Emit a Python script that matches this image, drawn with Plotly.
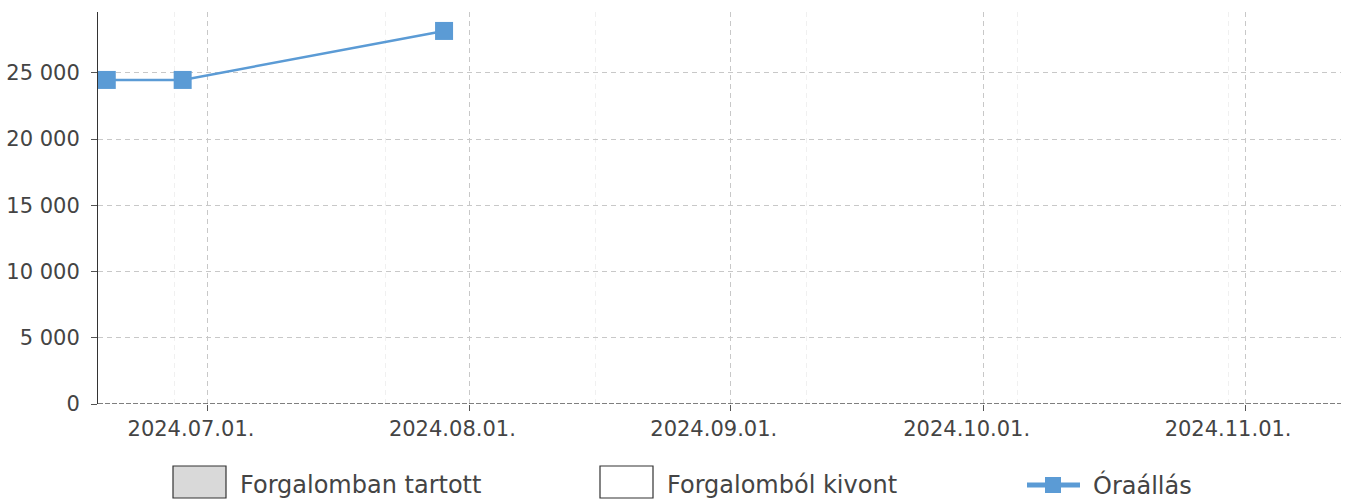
import plotly.graph_objects as go

# ---- data ----
dates = ["2024-06-19", "2024-06-28", "2024-07-29"]
meter_values = [24470, 24470, 28170]
legend_names = ["Forgalomban tartott", "Forgalomból kivont", "Óraállás"]
x_range = ["2024-06-17 23:00", "2024-11-12 09:00"]
y_range = [0, 29600]

LINE_COLOR = "#5b9bd5"
TEXT_COLOR = "#444444"
FONT = "DejaVu Sans"

W, H = 1348, 500
ML, MR, MT, MB = 98, 7, 12, 96
PW, PH = W - ML - MR, H - MT - MB


def px_x(px):
    return (px - ML) / PW


def px_y(py):
    return (H - MB - py) / PH


fig = go.Figure()

# empty bar series (kept for structure)
fig.add_trace(go.Bar(x=[], y=[], name=legend_names[0], marker_color="#d9d9d9", showlegend=False))
fig.add_trace(go.Bar(x=[], y=[], name=legend_names[1], marker_color="#ffffff", showlegend=False))

fig.add_trace(go.Scatter(
    x=dates, y=meter_values, name=legend_names[2], mode="lines+markers",
    line=dict(color=LINE_COLOR, width=2.5),
    marker=dict(symbol="square", size=18, color=LINE_COLOR),
    showlegend=False,
))

shapes = []
annotations = []

# x axis baseline (dashed)
shapes.append(dict(type="line", xref="paper", yref="y", x0=0, x1=1, y0=0, y1=0,
                   line=dict(color="#555555", width=1.5, dash="5px,2px"), layer="above"))

# custom legend
leg_y_top, leg_y_bot, leg_cy = 466, 498, 485
shapes.append(dict(type="rect", xref="paper", yref="paper",
                   x0=px_x(173), x1=px_x(226), y0=px_y(leg_y_bot), y1=px_y(leg_y_top),
                   fillcolor="#d9d9d9", line=dict(color="#333333", width=1.2)))
shapes.append(dict(type="rect", xref="paper", yref="paper",
                   x0=px_x(600), x1=px_x(653), y0=px_y(leg_y_bot), y1=px_y(leg_y_top),
                   fillcolor="#ffffff", line=dict(color="#333333", width=1.2)))
shapes.append(dict(type="line", xref="paper", yref="paper",
                   x0=px_x(1027), x1=px_x(1080), y0=px_y(leg_cy), y1=px_y(leg_cy),
                   line=dict(color=LINE_COLOR, width=5)))
shapes.append(dict(type="rect", xref="paper", yref="paper",
                   x0=px_x(1045), x1=px_x(1061), y0=px_y(leg_cy + 8), y1=px_y(leg_cy - 8),
                   fillcolor=LINE_COLOR, line=dict(width=0)))

for name, tx in zip(legend_names, [238, 665, 1091]):
    annotations.append(dict(text=name, xref="paper", yref="paper", x=px_x(tx), y=px_y(leg_cy),
                            xanchor="left", yanchor="middle", showarrow=False,
                            font=dict(family=FONT, size=24, color=TEXT_COLOR)))

fig.update_layout(
    width=W, height=H,
    margin=dict(l=ML, r=MR, t=MT, b=MB, pad=0),
    paper_bgcolor="white", plot_bgcolor="white",
    separators=", ",
    font=dict(family=FONT, color=TEXT_COLOR),
    shapes=shapes, annotations=annotations,
    xaxis=dict(
        type="date", range=x_range,
        tick0="2024-07-01", dtick="M1", tickformat="%Y.%m.%d.",
        ticks="outside", ticklen=6, tickcolor="#555555",
        tickfont=dict(family=FONT, size=21, color=TEXT_COLOR),
        ticklabelshift=-17,
        showgrid=True, gridcolor="#c8c8c8", griddash="5px,4px", gridwidth=1,
        minor=dict(tick0="2024-06-27", dtick=25 * 86400000, showgrid=True,
                   gridcolor="#f0f0f0", griddash="5px,4px", ticks=""),
        showline=False, zeroline=False,
    ),
    yaxis=dict(
        range=y_range, dtick=5000, tickformat=",d",
        ticks="outside", ticklen=6, tickcolor="#555555",
        tickfont=dict(family=FONT, size=21, color=TEXT_COLOR),
        ticklabelstandoff=7,
        showgrid=True, gridcolor="#c8c8c8", griddash="5px,4px", gridwidth=1,
        showline=True, linecolor="#333333", linewidth=1,
        zeroline=False,
    ),
)

fig.write_html(
    "out.html",
    config={"displayModeBar": False},
    post_script="document.body.style.margin='0';document.body.style.overflow='hidden';",
)
